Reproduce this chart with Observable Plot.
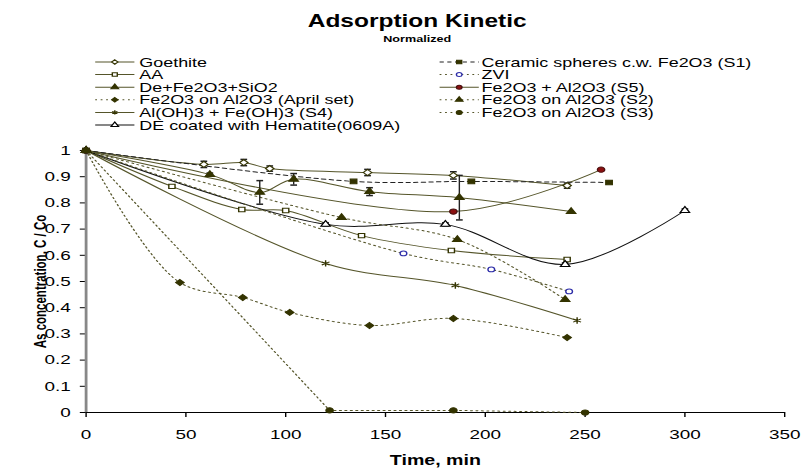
<!DOCTYPE html>
<html><head><meta charset="utf-8">
<script src="https://cdn.jsdelivr.net/npm/d3@7"></script>
<script src="https://cdn.jsdelivr.net/npm/@observablehq/plot@0.6"></script>
<style>
body{margin:0;background:#fff;overflow:hidden;font-family:"Liberation Sans",Arial,sans-serif}
#wrap{width:580px;height:469px;transform:scaleX(1.4);transform-origin:0 0}
#head{display:block}
</style></head><body>
<div id="wrap"><svg id="head" width="580" height="135"></svg><div id="plot"></div></div>
<script>
// ---- data ----
const xTicks = [0, 50, 100, 150, 200, 250, 300, 350];
const yTicks = [0, 0.1, 0.2, 0.3, 0.4, 0.5, 0.6, 0.7, 0.8, 0.9, 1];

const goethiteTime = [0, 59, 79, 92, 141, 184, 241];
const goethiteConc = [1, 0.947, 0.954, 0.931, 0.916, 0.905, 0.866];
const goethiteErr  = [0, 0.012, 0.012, 0.01, 0.012, 0.014, 0.01];

const aaTime = [0, 43, 78, 100, 138, 183, 241];
const aaConc = [1, 0.863, 0.775, 0.771, 0.675, 0.618, 0.584];

const deSiTime = [0, 62, 87, 104, 142, 187, 243];
const deSiConc = [1, 0.908, 0.84, 0.89, 0.843, 0.82, 0.767];
const deSiErr  = [0, 0.006, 0.045, 0.022, 0.015, 0.085, 0];

const aprilTime = [0, 47, 78.5, 102, 142, 184, 241];
const aprilConc = [1, 0.496, 0.439, 0.382, 0.332, 0.359, 0.286];

const s4Time = [0, 120, 185, 246];
const s4Conc = [1, 0.569, 0.485, 0.351];

const hemTime = [0, 120, 180, 240, 300];
const hemConc = [1, 0.718, 0.718, 0.565, 0.771];
const hemErr  = [0, 0.006, 0.006, 0.006, 0.006];

const s1Time = [0, 134, 193, 262];
const s1Conc = [1, 0.882, 0.882, 0.878];

const zviTime = [0, 159, 203, 242];
const zviConc = [1, 0.607, 0.546, 0.462];

const s5Time = [0, 184, 258];
const s5Conc = [1, 0.767, 0.927];

const s2Time = [0, 128, 186, 240];
const s2Conc = [1, 0.744, 0.66, 0.431];

const s3Time = [0, 122, 184, 250];
const s3Conc = [1, 0.008, 0.008, 0];

const seriesNames = ["Goethite", "AA", "De+Fe2O3+SiO2", "Fe2O3 on Al2O3 (April set)",
  "Al(OH)3 + Fe(OH)3 (S4)", "DE coated with Hematite(0609A)",
  "Ceramic spheres c.w. Fe2O3 (S1)", "ZVI", "Fe2O3 + Al2O3 (S5)",
  "Fe2O3 on Al2O3 (S2)", "Fe2O3 on Al2O3 (S3)"];

// ---- styles ----
const OL = "#55552a", MK = "#333300", DOT = "1.3,2.6", DASH = "3,2.5";
const styles = [
  {t: goethiteTime, c: goethiteConc, e: goethiteErr, sym: "diamond2", fill: "#fff", stroke: MK, line: OL, dash: null, r: 2.7},
  {t: aaTime, c: aaConc, sym: "square", fill: "#fff", stroke: MK, line: OL, dash: null, r: 2.5},
  {t: deSiTime, c: deSiConc, e: deSiErr, sym: "triangle", fill: MK, stroke: MK, line: OL, dash: null, r: 2.5},
  {t: aprilTime, c: aprilConc, sym: "diamond2", fill: MK, stroke: MK, line: OL, dash: DOT, r: 2.7},
  {t: s4Time, c: s4Conc, sym: "asterisk", fill: "none", stroke: MK, line: OL, dash: null, r: 3},
  {t: hemTime, c: hemConc, e: hemErr, sym: "triangle", fill: "#fff", stroke: "#000", line: "#111", dash: null, r: 2.5},
  {t: s1Time, c: s1Conc, sym: "square", fill: MK, stroke: MK, line: "#222", dash: DASH, r: 2.6},
  {t: zviTime, c: zviConc, sym: "circle", fill: "#fff", stroke: "#2d2da8", line: OL, dash: DOT, r: 2.4},
  {t: s5Time, c: s5Conc, sym: "circle", fill: "#8b1010", stroke: "#4a1010", line: OL, dash: null, r: 2.6},
  {t: s2Time, c: s2Conc, sym: "triangle", fill: MK, stroke: MK, line: OL, dash: DOT, r: 2.5},
  {t: s3Time, c: s3Conc, sym: "circle", fill: MK, stroke: MK, line: OL, dash: DOT, r: 2.6, curve: "linear"}
];

const hline = {draw(ctx, size) { const w = Math.sqrt(size / Math.PI); ctx.moveTo(-w, 0); ctx.lineTo(w, 0); }};

// ---- header: title + legend ----
const head = d3.select("#head");
head.append("text").attr("x", 298).attr("y", 27).attr("text-anchor", "middle")
  .attr("font-weight", "bold").attr("font-size", 17.5).text("Adsorption Kinetic");
head.append("text").attr("x", 298).attr("y", 42).attr("text-anchor", "middle")
  .attr("font-weight", "bold").attr("font-size", 9).text("Normalized");
const symMap = {diamond2: d3.symbolDiamond2, square: d3.symbolSquare, triangle: d3.symbolTriangle,
  asterisk: d3.symbolAsterisk, circle: d3.symbolCircle};
seriesNames.forEach((name, i) => {
  const st = styles[i];
  const col = i < 6 ? 0 : 1, row = i < 6 ? i : i - 6;
  const x0 = col ? 314 : 68, x1 = col ? 342 : 96, tx = col ? 344 : 99.5;
  const y = 62 + row * 12.6;
  const g = head.append("g");
  g.append("line").attr("x1", x0).attr("x2", x1).attr("y1", y).attr("y2", y)
    .attr("stroke", st.line).attr("stroke-width", 1).attr("stroke-dasharray", st.dash);
  g.append("path").attr("transform", `translate(${(x0 + x1) / 2},${y})`)
    .attr("d", d3.symbol(symMap[st.sym], Math.PI * 2 * 2)())
    .attr("fill", st.fill).attr("stroke", st.stroke).attr("stroke-width", 1);
  g.append("text").attr("x", tx).attr("y", y).attr("dy", "0.36em").attr("font-size", 12.8).text(name);
});

// ---- plot ----
const marks = [
  Plot.ruleX([0], {stroke: "#888", strokeWidth: 2}),
  Plot.ruleY([0], {stroke: "#000", strokeWidth: 1})
];
styles.forEach((st) => {
  const rows = st.t.map((t, j) => ({t, c: st.c[j]}));
  marks.push(Plot.line(rows, {x: "t", y: "c", stroke: st.line, strokeWidth: 1,
    strokeDasharray: st.dash || undefined, curve: st.curve || "catmull-rom"}));
});
styles.forEach((st) => {
  if (!st.e) return;
  const rows = st.t.map((t, j) => ({t, c: st.c[j], e: st.e[j]})).filter(d => d.e > 0);
  marks.push(Plot.ruleX(rows, {x: "t", y1: d => d.c - d.e, y2: d => d.c + d.e, stroke: "#222", strokeWidth: 1}));
  marks.push(Plot.dot(rows, {x: "t", y: d => d.c + d.e, symbol: hline, r: 2.4, stroke: "#222", fill: "none"}));
  marks.push(Plot.dot(rows, {x: "t", y: d => d.c - d.e, symbol: hline, r: 2.4, stroke: "#222", fill: "none"}));
});
styles.forEach((st) => {
  const rows = st.t.map((t, j) => ({t, c: st.c[j]}));
  marks.push(Plot.dot(rows, {x: "t", y: "c", symbol: st.sym, r: st.r, fill: st.fill, stroke: st.stroke, strokeWidth: 1}));
});
marks.push(Plot.text(["Time, min"], {text: d => d, frameAnchor: "bottom", lineAnchor: "middle", textAnchor: "middle", dy: 48, fontWeight: "bold", fontSize: 14}));
marks.push(Plot.text(["As concentration, C / Co"], {text: d => d, frameAnchor: "left", textAnchor: "middle", lineAnchor: "middle", dx: -32, rotate: -90, fontWeight: "bold", fontSize: 11.5}));

const chart = Plot.plot({
  width: 580, height: 334,
  marginLeft: 61, marginRight: 20, marginTop: 15, marginBottom: 57,
  style: {fontFamily: "'Liberation Sans', Arial, sans-serif", fontSize: "13.5px", color: "#000", background: "transparent", overflow: "visible"},
  x: {domain: [0, 350], ticks: xTicks, tickSize: 5, tickPadding: 12, label: null},
  y: {domain: [0, 1], ticks: yTicks, tickSize: 4, tickPadding: 7, label: null, tickFormat: d => String(+d.toFixed(1))},
  marks
});
document.getElementById("plot").appendChild(chart);
</script></body></html>
